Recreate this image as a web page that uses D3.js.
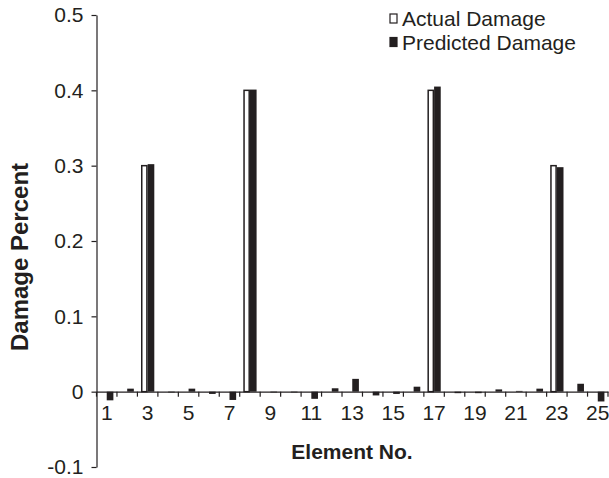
<!DOCTYPE html>
<html>
<head>
<meta charset="utf-8">
<script src="https://cdn.jsdelivr.net/npm/d3@7"></script>
<style>
html,body{margin:0;padding:0;background:#fff;}
svg{display:block;font-family:"Liberation Sans",Arial,sans-serif;}
</style>
</head>
<body>
<svg id="chart" width="609" height="478"></svg>
<script>
const elements = d3.range(1, 26);
const actualDamage = [0,0,0.30,0,0,0,0,0.40,0,0,0,0,0,0,0,0,0.40,0,0,0,0,0,0.30,0,0];
const predictedDamage = [-0.0115,0.004,0.302,-0.001,0.004,-0.003,-0.011,0.401,-0.001,-0.001,-0.0095,0.0045,0.017,-0.005,-0.003,0.0066,0.405,-0.002,-0.002,0.003,0.001,0.004,0.298,0.0105,-0.013];
const yTicks = [-0.1,0,0.1,0.2,0.3,0.4,0.5];
const yTickLabels = ["-0.1","0","0.1","0.2","0.3","0.4","0.5"];
const seriesNames = ["Actual Damage","Predicted Damage"];

const ink = "#231f20";
const svg = d3.select("#chart");
const pLeft = 96.5, pRight = 608, pTop = 15, pBottom = 467;

const x = d3.scaleBand().domain(elements).range([pLeft, pRight]).padding(0);
const xSub = d3.scaleBand().domain(seriesNames).range([x.bandwidth()*0.175, x.bandwidth()*0.825]);
const y = d3.scaleLinear().domain([-0.1, 0.5]).range([pBottom, pTop]);

// bars
const data = elements.map((e,i)=>({e, vals:[{s:seriesNames[0],v:actualDamage[i]},{s:seriesNames[1],v:predictedDamage[i]}]}));
const g = svg.append("g");
g.selectAll("g.grp").data(data).join("g").attr("class","grp")
  .attr("transform", d=>`translate(${x(d.e)},0)`)
  .selectAll("rect").data(d=>d.vals.filter(o=>o.v!==0)).join("rect")
  .attr("x", o=>xSub(o.s) + (o.s===seriesNames[0]?0.75:0))
  .attr("width", o=>xSub.bandwidth() - (o.s===seriesNames[0]?1.5:0))
  .attr("y", o=>y(Math.max(0,o.v)))
  .attr("height", o=>Math.abs(y(o.v)-y(0)))
  .attr("fill", o=>o.s===seriesNames[0]?"#fff":ink)
  .attr("stroke", o=>o.s===seriesNames[0]?ink:"none")
  .attr("stroke-width", 1.5);

// y axis
const yAxis = svg.append("g").attr("transform",`translate(${pLeft},0)`)
  .call(d3.axisLeft(y).tickValues(yTicks).tickSize(5).tickSizeOuter(0).tickPadding(8)
    .tickFormat((d,i)=>yTickLabels[i]));
yAxis.selectAll("path,line").attr("stroke",ink).attr("stroke-width",1.2);
yAxis.selectAll("text").attr("fill",ink).style("font-size","21px");

// x axis (baseline at 0)
const xAxis = svg.append("g").attr("transform",`translate(0,${y(0)})`)
  .call(d3.axisBottom(x).tickSize(0).tickSizeOuter(0).tickPadding(13)
    .tickFormat(d=>d%2===1?String(d):""));
xAxis.select("path").attr("stroke",ink).attr("stroke-width",1.2);
xAxis.selectAll("text").attr("fill",ink).style("font-size","21px");
// boundary ticks
const bounds = elements.map(e=>x(e)).concat([x(elements[elements.length-1])+x.bandwidth()]);
xAxis.selectAll("line.bt").data(bounds).join("line").attr("class","bt")
  .attr("x1",d=>d).attr("x2",d=>d).attr("y1",0).attr("y2",5)
  .attr("stroke",ink).attr("stroke-width",1.2);

// axis titles
svg.append("text").attr("x",352).attr("y",459).attr("text-anchor","middle")
  .attr("fill",ink).style("font-size","21px").style("font-weight","bold").text("Element No.");
svg.append("text").attr("transform",`translate(28,257) rotate(-90)`)
  .attr("text-anchor","middle").attr("fill",ink).style("font-size","24px").style("font-weight","bold")
  .text("Damage Percent");

// legend
const lg = svg.append("g").attr("transform","translate(389,0)");
seriesNames.forEach((s,i)=>{
  const yy = 26 + i*23.5;
  lg.append("rect").attr("x",1).attr("y",yy-12).attr("width",7).attr("height",9)
    .attr("fill", i===0?"#fff":ink).attr("stroke",ink).attr("stroke-width",1.2);
  lg.append("text").attr("x",13).attr("y",yy).attr("fill",ink).style("font-size","21px").text(s);
});
</script>
</body>
</html>
